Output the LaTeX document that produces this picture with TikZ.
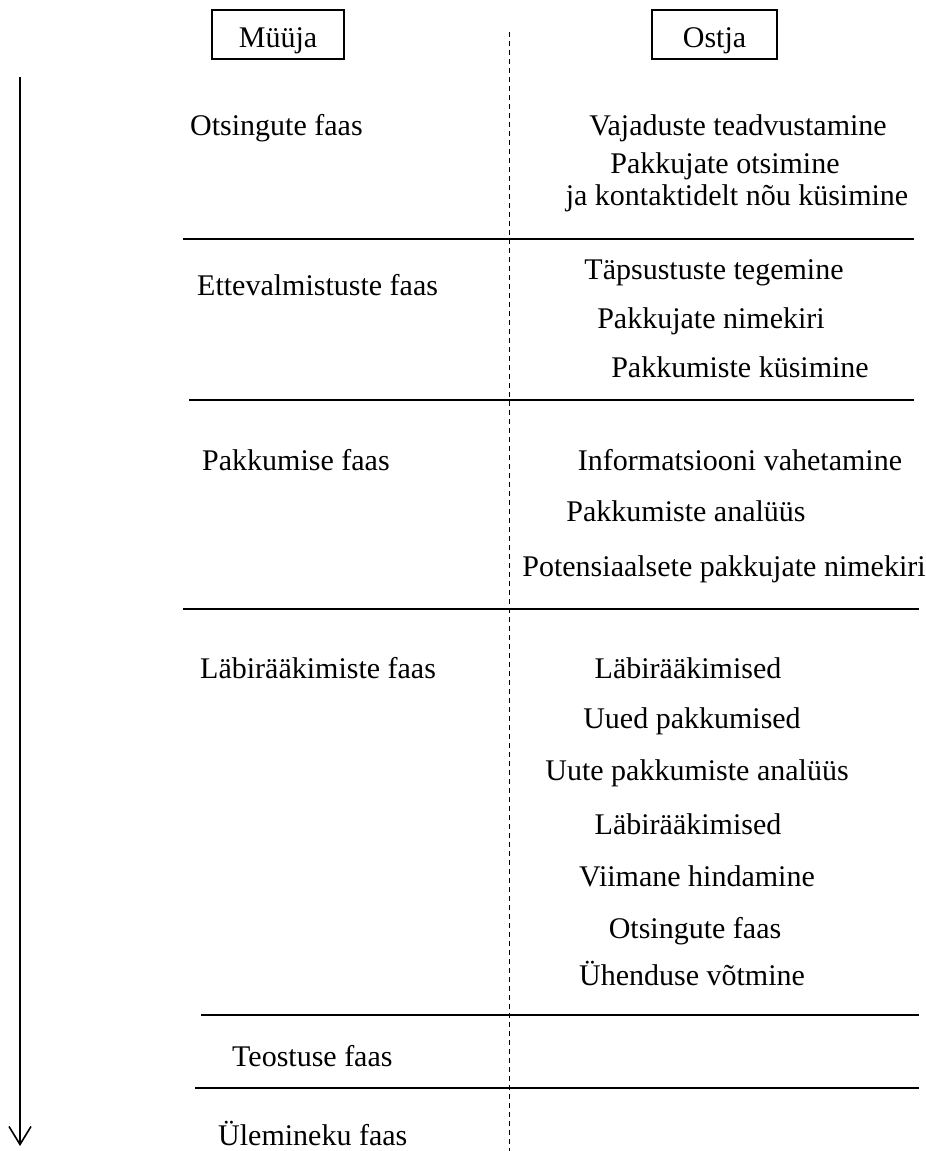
\documentclass[tikz,border=0pt]{standalone}
\usepackage{fontspec}
\setmainfont{Liberation Serif}
\usetikzlibrary{arrows.meta}
\begin{document}
\begin{tikzpicture}[x=1pt,y=-1pt,
  txt/.style={font=\fontsize{30}{34}\selectfont, inner sep=0pt, anchor=base},
  lefttxt/.style={txt, anchor=base west},
  headbox/.style={draw, line width=1.2pt, minimum width=#1, minimum height=49pt, inner sep=0pt},
  phaseline/.style={line width=1.5pt},
  divider/.style={line width=1pt, dash pattern=on 4.5pt off 4.5pt}
]
\useasboundingbox (0,0) rectangle (926,1151);

% column headers
\node[headbox=132pt] (seller) at (278,34.5) {};
\node[txt] (sellerlbl) at (278,47) {Müüja};
\node[headbox=125pt] (buyer) at (714.5,34.5) {};
\node[txt] (buyerlbl) at (714.5,47) {Ostja};

% time axis
\coordinate (tstart) at (20,77);
\coordinate (tend) at (20,1146);
\draw[line width=2pt, -{Straight Barb[length=18pt,width=22pt,line width=1.6pt]}] (tstart) -- (tend);

% dashed divider between seller and buyer
\coordinate (dtop) at (509,32);
\coordinate (dbot) at (509,1151);
\draw[divider] (dtop) -- (dbot);

% phase separators
\coordinate (s1a) at (183,239);  \coordinate (s1b) at (914,239);
\coordinate (s2a) at (189,400);  \coordinate (s2b) at (914,400);
\coordinate (s3a) at (183,609);  \coordinate (s3b) at (919,609);
\coordinate (s4a) at (201,1015); \coordinate (s4b) at (919,1015);
\coordinate (s5a) at (195,1088); \coordinate (s5b) at (919,1088);
\draw[phaseline] (s1a) -- (s1b);
\draw[phaseline] (s2a) -- (s2b);
\draw[phaseline] (s3a) -- (s3b);
\draw[phaseline] (s4a) -- (s4b);
\draw[phaseline] (s5a) -- (s5b);

% seller side: phases
\node[lefttxt] (p1) at (190,135) {Otsingute faas};
\node[lefttxt] (p2) at (197,295) {Ettevalmistuste faas};
\node[lefttxt] (p3) at (202,470) {Pakkumise faas};
\node[lefttxt] (p4) at (200,678) {Läbirääkimiste faas};
\node[lefttxt] (p5) at (232,1066) {Teostuse faas};
\node[lefttxt] (p6) at (218,1145) {Ülemineku faas};

% buyer side: activities
\node[txt] (b1)  at (738,135) {Vajaduste teadvustamine};
\node[txt] (b2)  at (725,173) {Pakkujate otsimine};
\node[txt] (b3)  at (737,205) {ja kontaktidelt nõu küsimine};
\node[txt] (b4)  at (714,279) {Täpsustuste tegemine};
\node[txt] (b5)  at (711,328) {Pakkujate nimekiri};
\node[txt] (b6)  at (740,377) {Pakkumiste küsimine};
\node[txt] (b7)  at (740,470) {Informatsiooni vahetamine};
\node[txt] (b8)  at (686,521) {Pakkumiste analüüs};
\node[txt] (b9)  at (724,576) {Potensiaalsete pakkujate nimekiri};
\node[txt] (b10) at (688,678) {Läbirääkimised};
\node[txt] (b11) at (692,728) {Uued pakkumised};
\node[txt] (b12) at (697,780) {Uute pakkumiste analüüs};
\node[txt] (b13) at (688,834) {Läbirääkimised};
\node[txt] (b14) at (697,886) {Viimane hindamine};
\node[txt] (b15) at (695,938) {Otsingute faas};
\node[txt] (b16) at (692,985) {Ühenduse võtmine};
\end{tikzpicture}
\end{document}
